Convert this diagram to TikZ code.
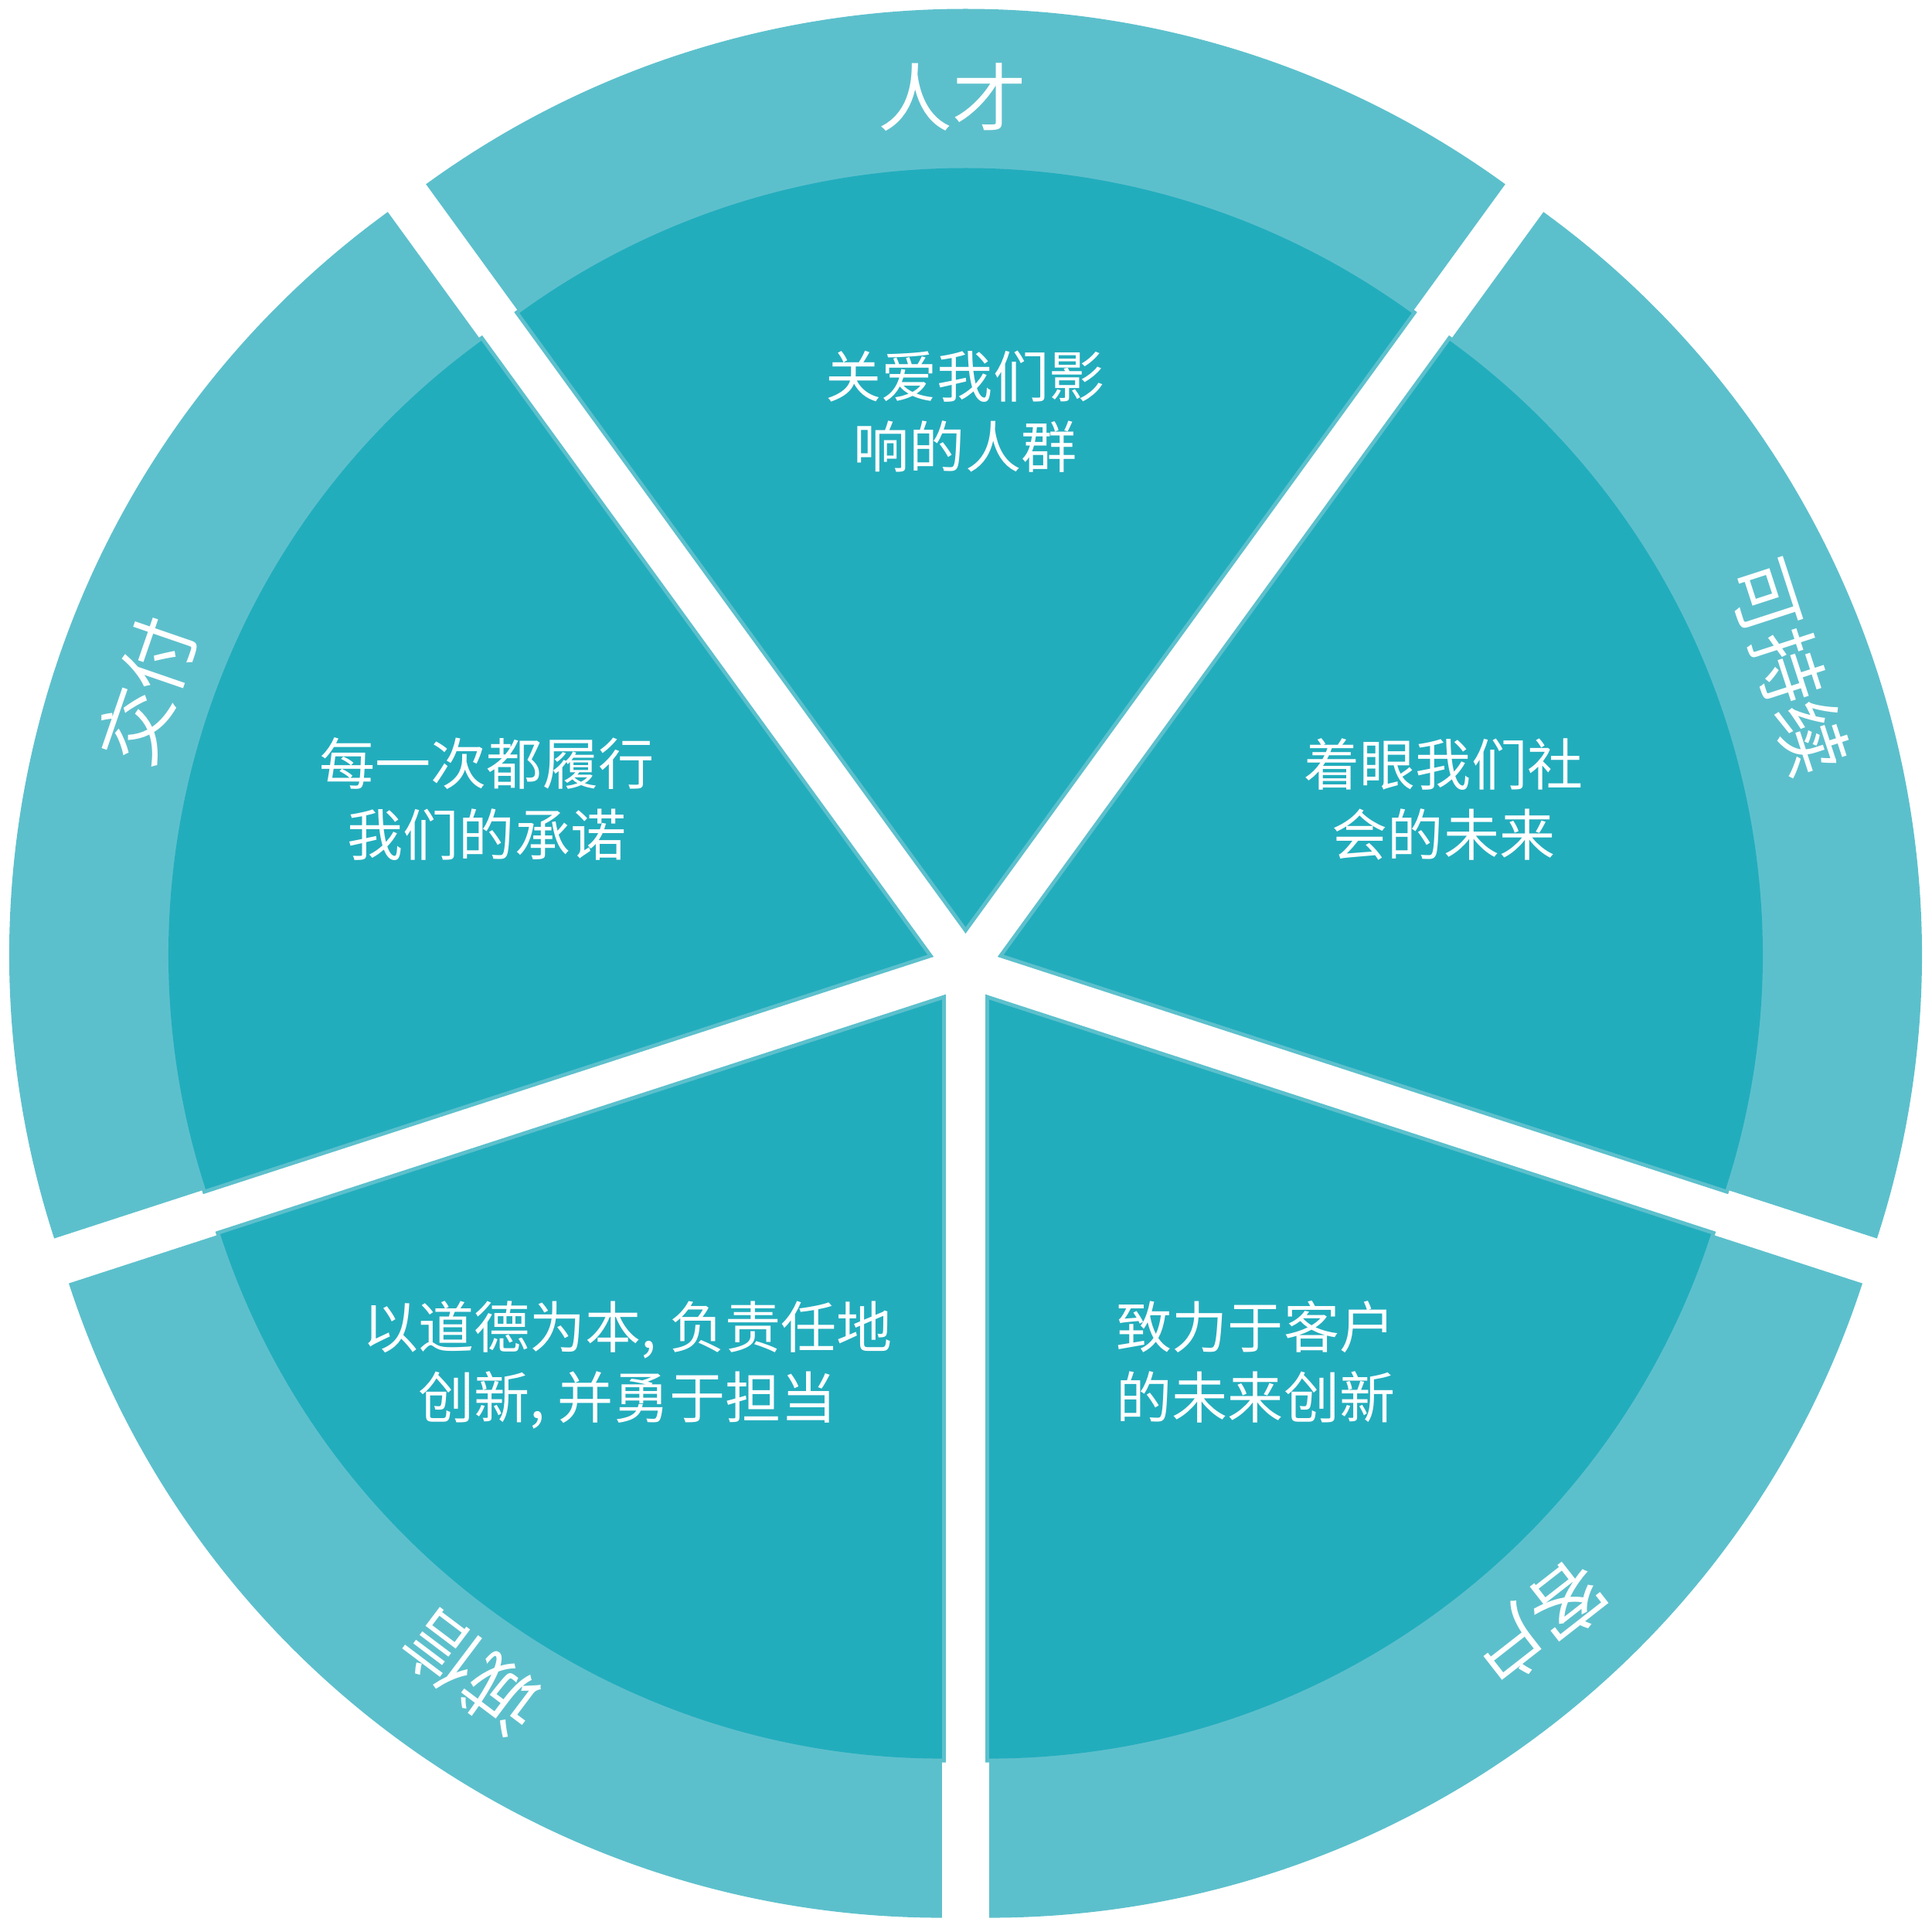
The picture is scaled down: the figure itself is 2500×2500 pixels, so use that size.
\documentclass[tikz,border=0pt]{standalone}
\usepackage{fontspec}
\newfontfamily\cjk{Noto Sans CJK SC}
\definecolor{ringc}{RGB}{92,192,204}
\definecolor{wedgec}{RGB}{34,173,189}
\begin{document}
\begin{tikzpicture}[x=0.01cm,y=0.01cm,
  ringpart/.style={fill=ringc},
  wedgepart/.style={fill=wedgec, preaction={draw=ringc, line width=0.1cm, line join=miter}},
  innertext/.style={text=white, align=center, inner sep=0pt, font=\cjk\fontsize{20.5pt}{25.9pt}\selectfont},
  outertext/.style={text=white, inner sep=0pt, font=\cjk\fontsize{27.3pt}{32pt}\selectfont}]
\useasboundingbox (-1249.5,-1248.5) rectangle (1250.5,1251.5);
% outer ring segments
\foreach \a in {90,18,306,234,162}{
  \begin{scope}[shift={(\a:52)}]
    \path[ringpart] (0,0) -- (\a-36:1188) arc[start angle=\a-36, end angle=\a+36, radius=1188] -- cycle;
  \end{scope}
}
% inner wedges
\foreach \a in {90,18,306,234,162}{
  \begin{scope}[shift={(\a:52)}]
    \path[wedgepart] (0,0) -- (\a-36:982) arc[start angle=\a-36, end angle=\a+36, radius=982] -- cycle;
  \end{scope}
}
% inner texts
\node[innertext] (care) at (-0.5,718.5) {关爱我们影\\响的人群};
\node[innertext] (deliver) at (-619.5,217.5) {每一次都履行\\我们的承诺};
\node[innertext] (future) at (618.5,217.5) {着眼我们社\\会的未来};
\node[innertext] (ethic) at (-437.5,-514.5) {以道德为本, 负责任地\\创新, 并勇于担当};
\node[innertext] (client) at (375.5,-510.5) {致力于客户\\的未来创新};
% outer labels
\node[outertext] (talent) at (-17,1125.5) {人才};
\node[outertext, rotate=-72] (sustain) at (1065.5,388.5) {可持续};
\node[outertext, rotate=-142] (customer) at (741,-850) {客户};
\node[outertext, rotate=143] (integrity) at (-639,-914) {诚信};
\node[outertext, rotate=71] (delivery) at (-1060,358) {交付};
\end{tikzpicture}
\end{document}
